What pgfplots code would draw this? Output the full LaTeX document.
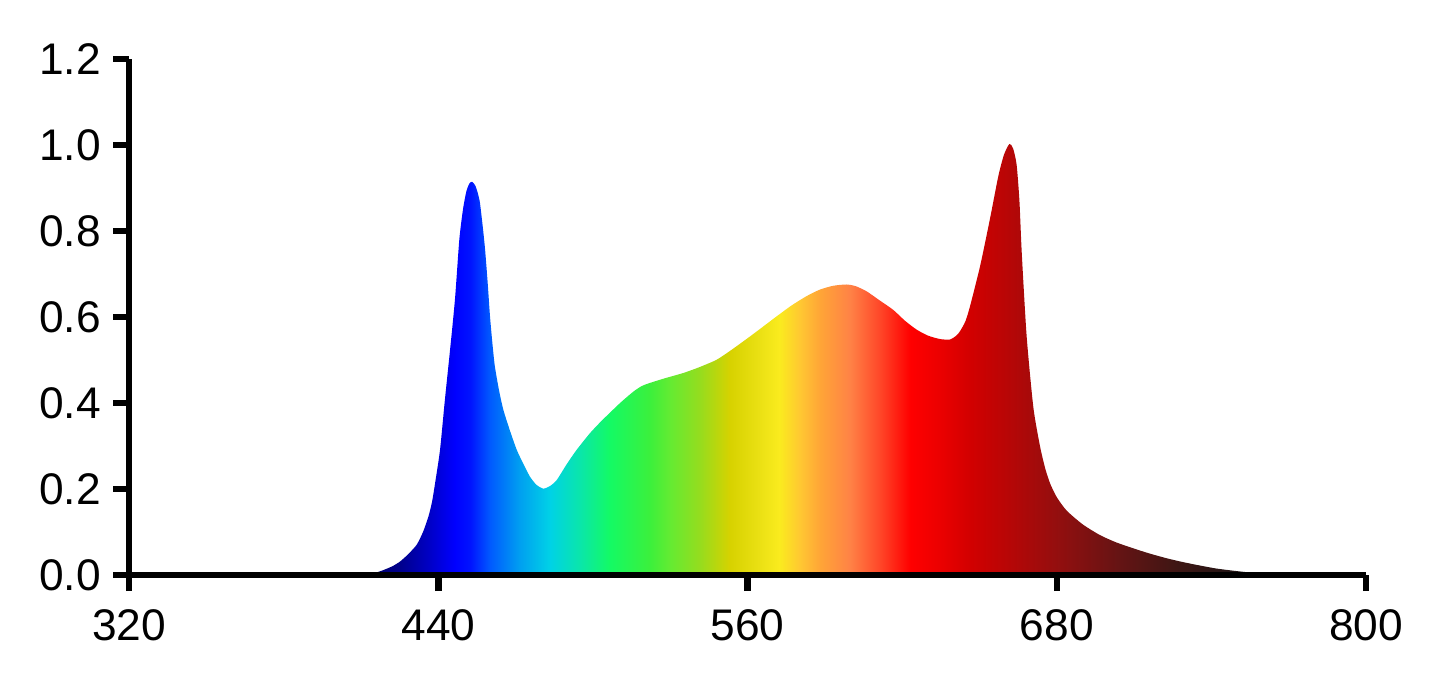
\documentclass[border=0pt]{standalone}
\usepackage{fontspec}
\setmainfont{Liberation Sans}
\usepackage{pgfplots}
\pgfplotsset{compat=1.18}

\definecolor{c00}{RGB}{0,0,110}
\definecolor{c01}{RGB}{0,0,140}
\definecolor{c02}{RGB}{0,0,200}
\definecolor{c03}{RGB}{0,0,255}
\definecolor{c04}{RGB}{0,20,255}
\definecolor{c05}{RGB}{0,90,255}
\definecolor{c06}{RGB}{0,160,240}
\definecolor{c07}{RGB}{0,210,230}
\definecolor{c08}{RGB}{10,230,170}
\definecolor{c09}{RGB}{20,250,100}
\definecolor{c10}{RGB}{60,240,60}
\definecolor{c11}{RGB}{100,235,50}
\definecolor{c12}{RGB}{150,220,30}
\definecolor{c13}{RGB}{215,210,0}
\definecolor{c14}{RGB}{235,225,20}
\definecolor{c15}{RGB}{250,235,30}
\definecolor{c16}{RGB}{255,200,50}
\definecolor{c17}{RGB}{255,165,55}
\definecolor{c18}{RGB}{255,130,70}
\definecolor{c19}{RGB}{255,70,40}
\definecolor{c20}{RGB}{255,0,0}
\definecolor{c21}{RGB}{235,0,0}
\definecolor{c22}{RGB}{210,0,0}
\definecolor{c23}{RGB}{175,8,8}
\definecolor{c24}{RGB}{145,15,15}
\definecolor{c25}{RGB}{100,20,20}
\definecolor{c26}{RGB}{60,22,20}
\definecolor{c27}{RGB}{35,20,20}
\definecolor{c28}{RGB}{28,20,20}

\pgfdeclarehorizontalshading{spectrum}{100bp}{%
color(0bp)=(c00); color(25bp)=(c00); color(26.5bp)=(c01); color(28.2bp)=(c02);
color(29.6bp)=(c03); color(30.5bp)=(c04); color(31.6bp)=(c05); color(33.3bp)=(c06);
color(35bp)=(c07); color(36.7bp)=(c08); color(38.4bp)=(c09); color(40.66bp)=(c10);
color(41.8bp)=(c11); color(43.5bp)=(c12); color(45.2bp)=(c13); color(46.9bp)=(c14);
color(48bp)=(c15); color(49.15bp)=(c16); color(50.3bp)=(c17); color(52bp)=(c18);
color(53.7bp)=(c19); color(55.4bp)=(c20); color(57.1bp)=(c21); color(58.8bp)=(c22);
color(61.6bp)=(c23); color(63.9bp)=(c24); color(67.3bp)=(c25); color(70.7bp)=(c26);
color(73.5bp)=(c27); color(75bp)=(c28); color(100bp)=(c28)}

\pgfplotstableread{
x y
414.8 0.004
418 0.010
422 0.020
425 0.031
428 0.047
431.5 0.070
434 0.100
436.1 0.136
437.5 0.170
438.7 0.214
440.6 0.291
442.5 0.408
444.5 0.524
446.4 0.641
448.1 0.781
449.5 0.850
450.8 0.892
452 0.911
453.1 0.915
454.3 0.906
455.3 0.888
456.1 0.866
457.2 0.810
458.1 0.757
459.1 0.680
460 0.602
461 0.535
461.9 0.485
463.5 0.430
465.2 0.384
467.8 0.335
470.4 0.291
473 0.258
475.5 0.229
478 0.210
480.7 0.201
483.3 0.207
485.9 0.221
489.8 0.258
493.6 0.291
498.8 0.330
502.7 0.355
506.6 0.378
511 0.403
515.7 0.427
519 0.440
522.1 0.447
528 0.458
535 0.470
541 0.483
548 0.501
554 0.525
560.9 0.555
566 0.578
571.3 0.602
577 0.627
582.9 0.649
588 0.664
593.2 0.673
598.4 0.676
602 0.672
606.2 0.660
611 0.640
616.5 0.617
621 0.592
625.6 0.571
630 0.557
634.7 0.549
638.5 0.548
641 0.557
642.4 0.567
644.5 0.590
646.3 0.625
650.2 0.718
654 0.827
657.3 0.928
659.5 0.978
661.6 1.003
663 0.993
664.4 0.955
665.5 0.870
666.4 0.749
668.3 0.555
670.9 0.390
673.5 0.299
675.5 0.248
677.4 0.213
680 0.181
683.8 0.150
690 0.118
696.7 0.093
703 0.076
709.7 0.062
716 0.050
722.6 0.039
729 0.030
735.6 0.022
742 0.015
748.5 0.010
753 0.007
757.3 0.004
}\spec

\begin{document}
\begin{tikzpicture}
\useasboundingbox (-12.93mm,-11.1mm) rectangle (131.57mm,57.5mm);
\begin{axis}[
  at={(0,0)}, anchor=south west,
  scale only axis,
  width=123.67mm, height=51.57mm,
  xmin=320, xmax=800, ymin=0, ymax=1.2,
  axis lines=left,
  axis line style={-, line width=1.8pt, black},
  axis on top,
  xtick={320,440,560,680,800},
  ytick={0,0.2,0.4,0.6,0.8,1.0,1.2},
  minor tick num=0,
  tick align=outside,
  major tick length=1.6mm,
  tick style={line width=1.8pt, black},
  ticklabel style={font=\fontsize{12.6}{14}\selectfont, /pgf/number format/assume math mode=true},
  yticklabel style={/pgf/number format/fixed, /pgf/number format/fixed zerofill, /pgf/number format/precision=1},
  xticklabel style={yshift=-0.6mm},
]
\addplot[draw=none, shading=spectrum, smooth, tension=0.4] table[x=x,y=y] {\spec} \closedcycle;
\end{axis}
\end{tikzpicture}
\end{document}
